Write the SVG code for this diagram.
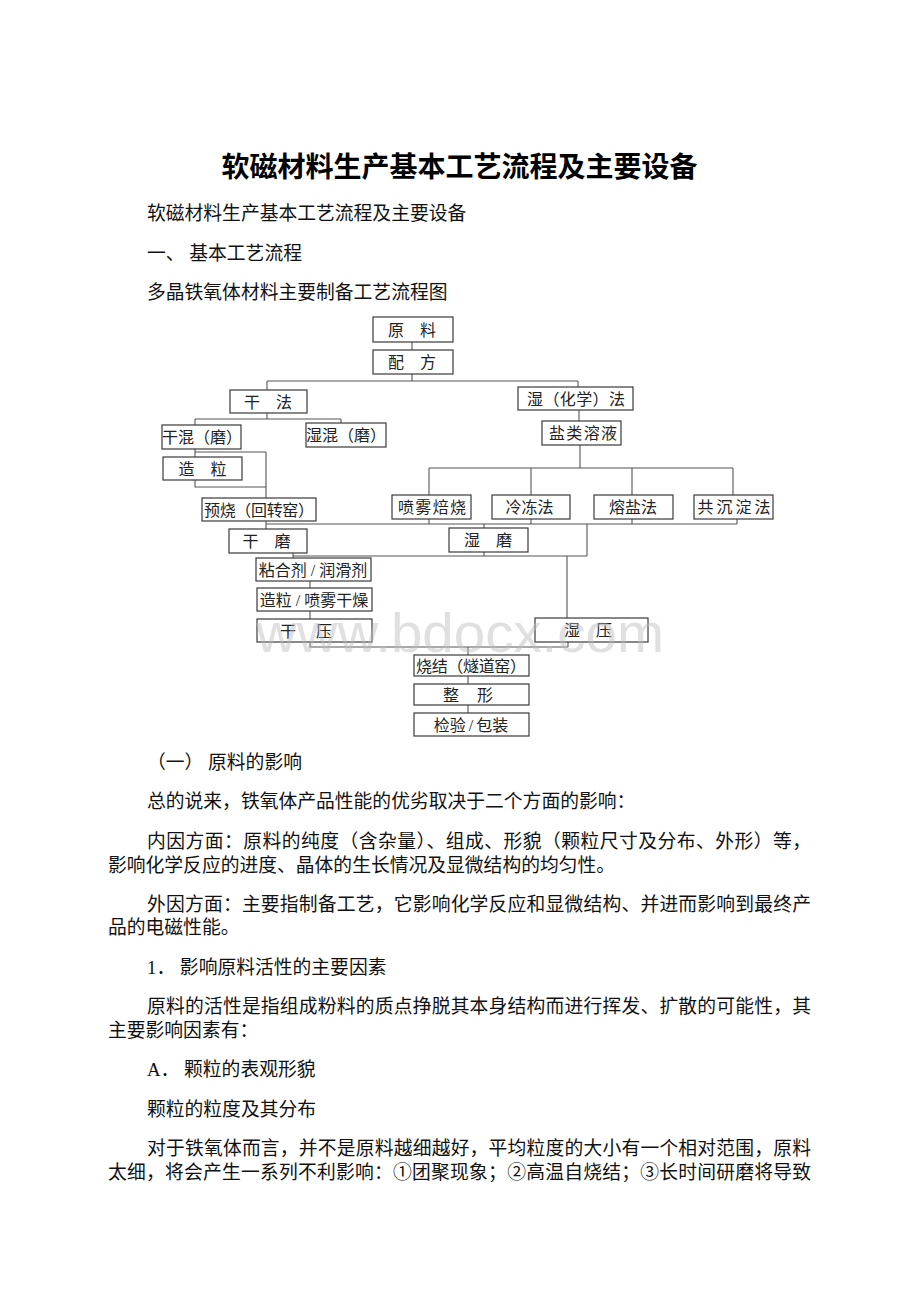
<svg xmlns="http://www.w3.org/2000/svg" width="920" height="1302" viewBox="0 0 920 1302">
<style>
.doc{font-family:'Liberation Serif','Noto Sans CJK SC',serif;font-size:18.8px;fill:#111}
.title{font-family:'Liberation Serif','Noto Sans CJK SC',sans-serif;font-size:28px;font-weight:bold;fill:#000}
.box rect{fill:#fff;stroke:#3a3a3a;stroke-width:1.2}
.box text{font-family:'Liberation Serif','Noto Sans CJK SC',sans-serif;font-size:16px;fill:#222;text-anchor:middle}
#connectors path{fill:none;stroke:#555;stroke-width:1.1}
.wm{font-family:'Liberation Sans',Arial,sans-serif;font-size:56px;fill:#bbbbbb;fill-opacity:0.45}
</style>
<rect x="0" y="0" width="920" height="1302" fill="#fff"/>

<g id="header">
<text class="title" x="459.5" y="176.5" text-anchor="middle">软磁材料生产基本工艺流程及主要设备</text>
<text class="doc" x="147" y="220">软磁材料生产基本工艺流程及主要设备</text>
<text class="doc" x="147" y="260">一、 基本工艺流程</text>
<text class="doc" x="147" y="299">多晶铁氧体材料主要制备工艺流程图</text>
</g>

<g id="connectors">
<path d="M412 342V350M412 374V381M267 381H578M267 381V390M578 381V388"/>
<path d="M267 413V419M195 419H341M195 419V425M341 419V423"/>
<path d="M195 449V457M195 452H266M266 452V498M195 480V487H266"/>
<path d="M579 410V421M580 445V468M429 468H733M429 468V495M531 468V495M632 468V495M733 468V495"/>
<path d="M266 521V529M266 524H737M429 519V524M531 519V524M632 519V524M737 519V524M484 524V528"/>
<path d="M587 524V556M293 556H587M293 553V558M484 552V556M567 556V618"/>
<path d="M310 581V588M310 611V619M310 642V647H568M568 642V647M468 647V655M468 676V684M468 705V713"/>
</g>

<g id="n-yuanliao" class="box"><rect x="373" y="317" width="80" height="25"/><text x="412" y="335.5">原　料</text></g>
<g id="n-peifang" class="box"><rect x="373" y="350" width="80" height="24"/><text x="412" y="368">配　方</text></g>
<g id="n-ganfa" class="box"><rect x="230" y="390" width="77" height="23"/><text x="268" y="407.5">干　法</text></g>
<g id="n-shifa" class="box"><rect x="518" y="387" width="115" height="23"/><text x="576" y="404.5" textLength="98" lengthAdjust="spacing">湿（化学）法</text></g>
<g id="n-ganhun" class="box"><rect x="162" y="425" width="79" height="24"/><text x="202" y="443">干混（磨）</text></g>
<g id="n-shihun" class="box"><rect x="306" y="423" width="80" height="24"/><text x="346" y="441">湿混（磨）</text></g>
<g id="n-yanlei" class="box"><rect x="542" y="421" width="79" height="24"/><text x="583" y="439" textLength="68" lengthAdjust="spacing">盐类溶液</text></g>
<g id="n-zaoli" class="box"><rect x="163" y="457" width="79" height="23"/><text x="202.5" y="474.5">造　粒</text></g>
<g id="n-yushao" class="box"><rect x="202" y="498" width="114" height="23"/><text x="259" y="515.5" textLength="110" lengthAdjust="spacing">预烧（回转窑）</text></g>
<g id="n-penwu" class="box"><rect x="392" y="495" width="79" height="24"/><text x="432" y="513" textLength="68" lengthAdjust="spacing">喷雾焙烧</text></g>
<g id="n-lengdong" class="box"><rect x="492" y="495" width="78" height="24"/><text x="529.5" y="513">冷冻法</text></g>
<g id="n-rongyan" class="box"><rect x="594" y="495" width="79" height="24"/><text x="633" y="513">熔盐法</text></g>
<g id="n-gongchen" class="box"><rect x="694" y="495" width="79" height="24"/><text x="734" y="513" textLength="73" lengthAdjust="spacing">共沉淀法</text></g>
<g id="n-ganmo" class="box"><rect x="229" y="529" width="78" height="24"/><text x="266.5" y="547">干　磨</text></g>
<g id="n-shimo" class="box"><rect x="449" y="528" width="79" height="24"/><text x="488" y="546">湿　磨</text></g>
<g id="n-nianhe" class="box"><rect x="256" y="558" width="115" height="23"/><text x="313" y="575.5">粘合剂<tspan dx="4">/</tspan><tspan dx="4">润滑剂</tspan></text></g>
<g id="n-zaoli2" class="box"><rect x="257" y="588" width="115" height="23"/><text x="314" y="605.5">造粒<tspan dx="4">/</tspan><tspan dx="4">喷雾干燥</tspan></text></g>
<g id="n-ganya" class="box"><rect x="257" y="619" width="115" height="23"/><text x="306" y="636.5" textLength="52" lengthAdjust="spacing">干　压</text></g>
<g id="n-shiya" class="box"><rect x="535" y="618" width="113" height="24"/><text x="588" y="636">湿　压</text></g>
<g id="n-shaojie" class="box"><rect x="414" y="655" width="115" height="21"/><text x="471" y="671.5" textLength="110" lengthAdjust="spacing">烧结（燧道窑）</text></g>
<g id="n-zhengxing" class="box"><rect x="414" y="684" width="115" height="21"/><text x="468" y="700.5" textLength="50" lengthAdjust="spacing">整　形</text></g>
<g id="n-jianyan" class="box"><rect x="414" y="713" width="115" height="23"/><text x="471" y="730.5">检验<tspan dx="3">/</tspan><tspan dx="3">包装</tspan></text></g>

<text class="wm" x="256" y="652" textLength="408" lengthAdjust="spacingAndGlyphs">www.bdocx.com</text>

<g id="body">
<text class="doc" x="147" y="769">（一） 原料的影响</text>
<text class="doc" x="147" y="808">总的说来，铁氧体产品性能的优劣取决于二个方面的影响：</text>
<text class="doc" x="147" y="848" textLength="664" lengthAdjust="spacing">内因方面：原料的纯度（含杂量）、组成、形貌（颗粒尺寸及分布、外形）等，</text>
<text class="doc" x="108" y="872">影响化学反应的进度、晶体的生长情况及显微结构的均匀性。</text>
<text class="doc" x="147" y="911" textLength="664" lengthAdjust="spacing">外因方面：主要指制备工艺，它影响化学反应和显微结构、并进而影响到最终产</text>
<text class="doc" x="108" y="934">品的电磁性能。</text>
<text class="doc" x="147" y="974">1． 影响原料活性的主要因素</text>
<text class="doc" x="147" y="1013" textLength="664" lengthAdjust="spacing">原料的活性是指组成粉料的质点挣脱其本身结构而进行挥发、扩散的可能性，其</text>
<text class="doc" x="108" y="1037">主要影响因素有：</text>
<text class="doc" x="147" y="1076">A． 颗粒的表观形貌</text>
<text class="doc" x="147" y="1116">颗粒的粒度及其分布</text>
<text class="doc" x="147" y="1155" textLength="664" lengthAdjust="spacing">对于铁氧体而言，并不是原料越细越好，平均粒度的大小有一个相对范围，原料</text>
<text class="doc" x="108" y="1179" textLength="703" lengthAdjust="spacing">太细，将会产生一系列不利影响：①团聚现象；②高温自烧结；③长时间研磨将导致</text>
</g>
</svg>
